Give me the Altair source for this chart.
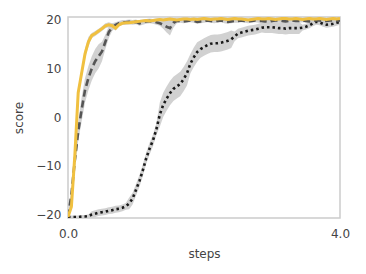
import altair as alt
import pandas as pd

steps = [round(i * 0.05, 2) for i in range(81)]

yellow = [-20.6, -18.5, -8.0, 5.0, 9.0, 13.0, 15.5, 16.8, 17.2, 17.7,
          18.2, 18.8, 19.0, 18.8, 18.3, 19.0, 19.3, 19.4, 19.4, 19.5,
          19.6, 19.7, 19.8, 19.9, 19.8, 19.9, 20.0,
          20.1, 20.0, 20.1, 20.2, 20.1, 20.0, 20.1, 20.2, 20.2, 20.1,
          20.2, 20.1, 20.2, 20.3, 20.2, 20.1, 20.2, 20.2, 20.3, 20.2,
          20.1, 20.2, 20.3, 20.2, 20.2, 20.1, 20.0, 20.1, 20.2, 20.3,
          20.2, 20.2, 20.3, 20.2, 20.1, 20.2, 20.3, 20.3, 20.2, 20.2,
          20.3, 20.2, 20.1, 20.2, 20.3, 20.2, 20.2, 20.3, 20.2, 20.1,
          20.2, 20.3, 20.2, 20.3]
yellow_spread = [0.5] * 3 + [1.0] * 4 + [0.5] * 8 + [0.3] * 66

dashed = [-20.5, -16.0, -9.0, -3.0, 1.5, 5.5, 8.0, 10.0, 11.5, 12.5,
          13.5, 15.5, 17.5, 18.5, 19.0, 19.3, 19.5, 19.5, 19.6, 19.5,
          19.6, 19.3, 19.5, 19.7, 19.8, 19.7, 19.5, 19.3, 19.0, 18.6,
          18.3, 19.4, 19.8,
          19.8, 19.7, 19.8, 19.9, 19.8, 19.6, 19.7, 19.8, 19.9, 19.8,
          19.7, 19.8, 19.9, 19.7, 19.6, 19.7, 19.8, 19.8, 19.9, 19.8,
          19.7, 19.8, 19.9, 19.8, 19.8, 19.7, 19.6, 19.8, 19.9, 19.9,
          19.8, 19.7, 19.8, 19.9, 19.8, 19.8, 19.9, 19.8, 19.7, 19.8,
          19.9, 19.9, 19.8, 19.8, 19.9, 19.9, 19.8, 19.9]
dashed_spread = ([0.3, 1.5, 2.0, 2.0, 2.5, 2.5, 2.5, 2.5, 2.5, 2.5, 2.0, 1.5, 1.2, 0.8]
                 + [0.5] * 14 + [0.8, 1.2, 1.5, 1.0, 0.5] + [0.4] * 48)

dotted = [-20.6, -20.6, -20.6, -20.6, -20.5, -20.5, -20.4, -20.1, -19.9, -19.7,
          -19.6, -19.5, -19.3, -19.2, -19.0, -18.9, -18.7, -18.4, -17.8, -16.8,
          -15.0, -13.2, -11.0, -8.5, -6.5, -4.8, -2.5, 0.5, 2.5, 3.8,
          4.9, 5.8, 6.3, 6.8, 7.8, 9.0, 11.0, 12.3, 13.4, 14.0,
          14.4, 14.8, 15.1, 15.2, 15.2, 15.3, 15.5, 15.7, 16.0, 16.6,
          17.2, 17.4, 17.6, 17.8, 17.9, 18.0, 18.2, 18.4, 18.5, 18.5,
          18.5, 18.4, 18.3, 18.3, 18.2, 18.3, 18.3, 18.3, 18.3, 18.4,
          18.6, 18.9, 19.3, 19.6, 19.5, 19.2, 19.0, 19.1, 19.2, 19.4, 19.6]
dotted_spread = ([0.3] * 7 + [0.7] * 11 + [1.2] * 9 + [2.5] * 9 + [2.0] * 3
                 + [1.8] * 10 + [1.0] * 9 + [1.2] * 11 + [0.6] * 12)

rows = []
for name, vals, spr in [("dotted", dotted, dotted_spread),
                        ("dashed", dashed, dashed_spread),
                        ("yellow", yellow, yellow_spread)]:
    for s, v, d in zip(steps, vals, spr):
        rows.append({"steps": s, "score": v, "lo": v - d, "hi": v + d, "series": name})
df = pd.DataFrame(rows)

xs = alt.Scale(domain=[0, 4], nice=False, zero=False)
ys = alt.Scale(domain=[-20.8, 20.6], nice=False, zero=False)

xax = alt.Axis(values=[0, 4], format=".1f", title="steps", grid=False, ticks=False,
               domain=False, labelFlush=False, labelPadding=10, titlePadding=9)
yax = alt.Axis(values=[-20, -10, 0, 10, 20], title="score", grid=False, ticks=False,
               domain=False, labelFlush=False, labelPadding=7, titlePadding=10)

base = alt.Chart(df)

band = base.mark_area(color="#cccccc", opacity=0.9, clip=True).encode(
    x=alt.X("steps:Q", scale=xs, axis=xax),
    y=alt.Y("lo:Q", scale=ys, axis=yax),
    y2="hi:Q",
    detail="series:N",
)

dot_line = alt.Chart(df[df.series == "dotted"]).mark_line(
    color="#1a1a1a", strokeWidth=2.6, strokeDash=[2.5, 3], clip=True
).encode(x=alt.X("steps:Q", scale=xs), y=alt.Y("score:Q", scale=ys))

dash_line = alt.Chart(df[df.series == "dashed"]).mark_line(
    color="#555555", strokeWidth=2.6, strokeDash=[7, 4], clip=True
).encode(x=alt.X("steps:Q", scale=xs), y=alt.Y("score:Q", scale=ys))

yel_line = alt.Chart(df[df.series == "yellow"]).mark_line(
    color="#f0c040", strokeWidth=3, clip=True
).encode(x=alt.X("steps:Q", scale=xs), y=alt.Y("score:Q", scale=ys))

chart = alt.layer(band, dot_line, dash_line, yel_line).properties(
    width=272, height=201,
    autosize=alt.AutoSizeParams(type="none"),
    padding={"left": 60, "top": 9, "right": 18, "bottom": 48},
).configure_view(
    stroke="#cccccc", strokeWidth=1.5
).configure_axis(
    labelFont="DejaVu Sans", titleFont="DejaVu Sans", labelFontSize=12, titleFontSize=12,
    labelColor="#444444", titleColor="#444444", titleFontWeight="normal"
)

chart.save("out.html", embed_options={"renderer": "svg", "actions": False})
